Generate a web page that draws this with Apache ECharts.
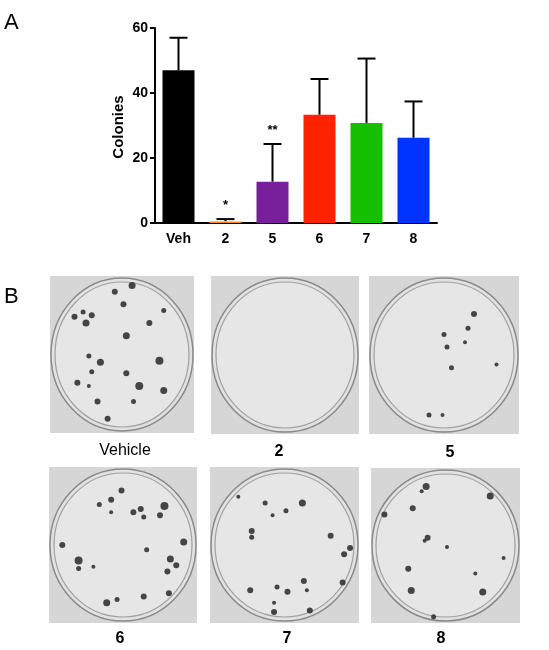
<!DOCTYPE html>
<html>
<head>
<meta charset="utf-8">
<script src="https://cdn.jsdelivr.net/npm/echarts@6/dist/echarts.min.js"></script>
<style>html,body{margin:0;padding:0;background:#fff}#main{width:549px;height:650px}</style>
</head>
<body>
<div id="main"></div>
<script>
var categories = ['Veh', '2', '5', '6', '7', '8'];
var means = [47, 0.5, 12.7, 33.3, 30.8, 26.2];
var upper = [57, 1.2, 24.3, 44.3, 50.6, 37.4];
var barColors = ['#000000', '#f08a1c', '#7a1f9c', '#ff2200', '#16c000', '#0033ff'];
var stars = ['', '*', '**', '', '', ''];

// dishes: label, rect [x, y, w, h], colonies [x%, y%, size]
var dishLabels = ['Vehicle', '2', '5', '6', '7', '8'];
var dishRects = [[50, 276, 144, 157], [211, 276, 148, 158], [369, 276, 150, 158],
                 [49, 467, 148, 156], [210, 467, 149, 156], [371, 468, 149, 155]];
var labelPos = [[125, 451], [279, 452], [450, 453], [120, 639], [287, 639], [441, 639]];
var colVeh = [[57,6,6],[45,10,5],[51,18,5],[17,26,5],[23,23,4],[29,25,5],[25,30,6],[79,22,4],[69,30,5],[53,38,6],
    [27,51,4],[35,55,6],[76,54,7],[29,61,4],[53,62,5],[19,68,5],[62,70,7],[79,73,6],[33,80,5],[58,80,4],[40,91,5],[27,70,3]];
var col2 = [];
var col5 = [[70,24,5],[66,33,4],[50,37,4],[64,42,3],[52,45,4],[55,58,4],[85,56,3],[40,88,4],[49,88,3]];
var col6 = [[49,15,5],[34,24,4],[42,21,5],[42,29,3],[57,29,5],[62,27,5],[64,32,4],[78,25,7],[75,31,5],[9,50,5],
    [20,60,7],[20,65,4],[66,53,4],[82,59,6],[91,48,6],[86,63,5],[80,67,5],[81,81,5],[64,83,5],[46,85,4],[39,87,6],[30,64,3]];
var col7 = [[62,23,6],[37,23,4],[51,28,4],[42,31,3],[28,41,5],[28,45,4],[81,44,5],[94,52,5],[90,56,5],[63,73,5],
    [89,74,5],[27,79,5],[45,77,4],[52,80,5],[65,79,3],[43,87,3],[43,93,5],[67,92,5],[19,19,3]];
var col8 = [[37,12,6],[34,15,3],[80,18,6],[28,26,5],[9,30,5],[38,45,5],[36,47,3],[51,51,3],[89,58,3],[25,65,5],
    [70,68,3],[27,79,6],[75,80,6],[42,96,4]];
var colonies = [colVeh, col2, col5, col6, col7, col8];

var chart = echarts.init(document.getElementById('main'));
var font = 'Liberation Sans';

var grids = [{left: 155, right: 112, top: 28, bottom: 427}];
var xAxes = [{
    gridIndex: 0, type: 'category', data: categories,
    axisLine: {lineStyle: {color: '#000', width: 2}},
    axisTick: {show: false},
    axisLabel: {color: '#000', fontWeight: 'bold', fontSize: 14, fontFamily: font, margin: 9}
}];
var yAxes = [{
    gridIndex: 0, type: 'value', min: 0, max: 60, interval: 20,
    axisLine: {show: true, lineStyle: {color: '#000', width: 2}},
    axisTick: {show: true, inside: false, length: 5, lineStyle: {width: 2}},
    splitLine: {show: false},
    axisLabel: {color: '#000', fontWeight: 'bold', fontSize: 14, fontFamily: font, margin: 7}
}];
var series = [{
    type: 'bar', xAxisIndex: 0, yAxisIndex: 0, barWidth: 32,
    data: means.map(function (v, i) { return {value: v, itemStyle: {color: barColors[i]}}; })
}, {
    type: 'custom', xAxisIndex: 0, yAxisIndex: 0, z: 1,
    data: categories.map(function (c, i) { return [i, means[i], upper[i]]; }),
    renderItem: function (params, api) {
        var lo = api.coord([api.value(0), api.value(1)]);
        var hi = api.coord([api.value(0), api.value(2)]);
        var s = stars[params.dataIndex];
        var ch = [
            {type: 'line', shape: {x1: lo[0], y1: lo[1], x2: hi[0], y2: hi[1]}, style: {stroke: '#000', lineWidth: 2}},
            {type: 'line', shape: {x1: hi[0] - 9, y1: hi[1], x2: hi[0] + 9, y2: hi[1]}, style: {stroke: '#000', lineWidth: 2}}
        ];
        if (s) ch.push({type: 'text', style: {text: s, x: hi[0], y: hi[1] - 14, align: 'center', verticalAlign: 'middle',
            fill: '#000', font: 'bold 13px ' + font}});
        return {type: 'group', children: ch};
    }
}];

var graphics = [
    {type: 'text', left: 4, top: 12, style: {text: 'A', fill: '#000', font: '22px ' + font}},
    {type: 'text', left: 4, top: 286, style: {text: 'B', fill: '#000', font: '22px ' + font}},
    {type: 'text', x: 119, y: 127, rotation: Math.PI / 2,
        style: {text: 'Colonies', fill: '#000', align: 'center', verticalAlign: 'middle', font: 'bold 15px ' + font}}
];

dishRects.forEach(function (r, i) {
    var cx = r[0] + r[2] / 2, cy = r[1] + r[3] / 2;
    graphics.push({type: 'rect', shape: {x: r[0], y: r[1], width: r[2], height: r[3]}, style: {fill: '#d6d6d6'}, z: -10});
    graphics.push({type: 'ellipse', shape: {cx: cx, cy: cy, rx: r[2] / 2 - 1, ry: r[3] / 2 - 2},
        style: {fill: '#e2e2e2', stroke: '#8a8a8a', lineWidth: 1.5}, z: -9});
    graphics.push({type: 'ellipse', shape: {cx: cx, cy: cy, rx: r[2] / 2 - 5, ry: r[3] / 2 - 6},
        style: {fill: '#e6e6e6', stroke: '#a0a0a0', lineWidth: 1.2}, z: -8});
    var bold = i > 0;
    graphics.push({type: 'text', x: labelPos[i][0], y: labelPos[i][1],
        style: {text: dishLabels[i], fill: '#000', align: 'center', verticalAlign: 'middle',
            font: (bold ? 'bold 16px ' : '16px ') + font}});

    var g = i + 1;
    grids.push({left: r[0], top: r[1], width: r[2], height: r[3]});
    xAxes.push({gridIndex: g, type: 'value', min: 0, max: 100, show: false});
    yAxes.push({gridIndex: g, type: 'value', min: 0, max: 100, inverse: true, show: false});
    series.push({
        type: 'scatter', xAxisIndex: g, yAxisIndex: g, data: colonies[i],
        symbolSize: function (d) { return d[2] + 1; },
        itemStyle: {color: '#333333', opacity: 0.9}, silent: true
    });
});

chart.setOption({
    animation: false,
    grid: grids, xAxis: xAxes, yAxis: yAxes, series: series, graphic: graphics
});
</script>
</body>
</html>
